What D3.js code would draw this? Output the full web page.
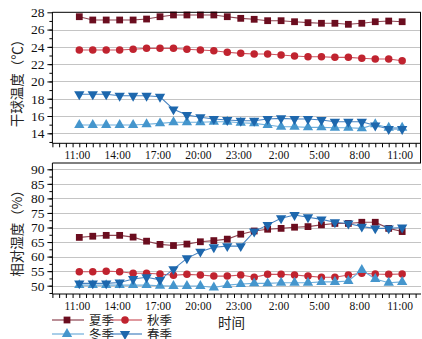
<!DOCTYPE html>
<html><head><meta charset="utf-8">
<script src="https://cdn.jsdelivr.net/npm/d3@7"></script>
<style>body{margin:0;background:#fff}svg{display:block}</style>
</head><body>
<svg id="c" width="422" height="339"></svg>
<script>
// hours since 11:00
const hours = d3.range(0, 25);
const tickHours = [0, 3, 6, 9, 12, 15, 18, 21, 24];
const tickLabels = ["11:00","14:00","17:00","20:00","23:00","2:00","5:00","8:00","11:00"];
const seasons = ["夏季","秋季","冬季","春季"];

const tempSummer = [27.49,27.11,27.11,27.11,27.11,27.22,27.49,27.69,27.69,27.69,27.69,27.49,27.3,27.19,27.03,27.03,26.91,26.8,26.73,26.73,26.61,26.73,26.91,26.99,26.91];
const tempAutumn = [23.64,23.64,23.64,23.64,23.72,23.83,23.83,23.83,23.72,23.64,23.56,23.37,23.25,23.17,23.17,23.06,22.94,22.86,22.86,22.79,22.79,22.68,22.6,22.6,22.4];
const tempWinter = [14.96,14.96,14.96,14.96,14.96,15.04,15.15,15.27,15.27,15.27,15.34,15.34,15.22,15.15,14.96,14.76,14.76,14.69,14.69,14.65,14.65,14.57,15.05,14.65,14.65];
const tempSpring = [18.51,18.51,18.51,18.35,18.35,18.35,18.23,16.77,16.11,15.85,15.65,15.53,15.45,15.45,15.65,15.73,15.65,15.65,15.53,15.34,15.34,15.34,14.9,14.5,14.5];

const rhSummer = [66.6,67.0,67.3,67.3,66.7,65.3,64.2,63.8,64.3,65.1,65.5,66.0,67.7,68.8,69.4,69.7,70.1,70.3,70.9,71.4,71.4,71.8,71.8,69.7,68.6];
const rhAutumn = [54.8,54.8,55.0,54.8,54.3,54.3,54.0,53.6,53.9,53.7,53.3,53.3,53.7,52.9,53.9,53.9,53.7,53.3,52.9,52.9,53.7,54.3,54.0,53.9,54.0];
const rhWinter = [50.2,50.2,50.2,50.2,50.2,50.2,50.0,49.9,49.9,49.9,49.4,50.2,50.6,50.8,50.8,51.0,51.0,51.0,51.3,51.3,51.6,55.4,52.3,51.0,51.3];
const rhSpring = [50.8,50.8,50.8,51.1,52.3,52.9,52.0,55.7,59.4,61.7,63.2,63.6,63.6,68.6,70.9,73.2,74.3,73.5,72.8,71.8,71.4,70.3,69.7,69.7,70.0];

const styles = [
  {marker:"#6b0d1f", line:"#8e4552", sym:d3.symbolSquare, size:46, rot:0},
  {marker:"#c0232f", line:"#cc5560", sym:d3.symbolCircle, size:44, rot:0},
  {marker:"#4596cd", line:"#6eaedb", sym:d3.symbolTriangle, size:46, rot:0},
  {marker:"#1d67ad", line:"#4682c0", sym:d3.symbolTriangle, size:46, rot:180}
];

const svg = d3.select("#c");
const x = d3.scaleLinear().domain([-2, 25.4]).range([52.4, 421]);
const serif = "'Liberation Serif','DejaVu Serif',serif";
const cjk = "'Noto Sans CJK SC',sans-serif";

function panel(cfg){
  const y = d3.scaleLinear().domain(cfg.dom).range(cfg.rng);
  const g = svg.append("g");
  g.selectAll(".grid").data(cfg.grid).join("line")
    .attr("x1", x(-2)).attr("x2", 421).attr("y1", d=>Math.round(y(d))+0.5).attr("y2", d=>Math.round(y(d))+0.5)
    .attr("stroke","#c4c4c4").attr("stroke-width",1);
  const ya = g.append("g").attr("transform",`translate(${x(-2)},0)`)
    .call(d3.axisLeft(y).tickValues(cfg.major).tickSize(5).tickPadding(3).tickFormat(d3.format("d")));
  ya.select(".domain").remove();
  ya.selectAll("text").attr("font-family",serif).attr("font-size",13.5).attr("fill","#111");
  g.append("g").attr("transform",`translate(${x(-2)},0)`)
    .call(d3.axisLeft(y).tickValues(cfg.minor).tickSize(3).tickFormat(""))
    .select(".domain").remove();
  g.append("line").attr("x1",x(-2)).attr("x2",x(-2)).attr("y1",cfg.top).attr("y2",cfg.axisY).attr("stroke","#000");
  g.append("line").attr("x1",x(-2)).attr("x2",421).attr("y1",cfg.axisY).attr("y2",cfg.axisY).attr("stroke","#000");
  const xa = g.append("g").attr("transform",`translate(0,${cfg.axisY})`)
    .call(d3.axisBottom(x).tickValues(d3.range(-2, 25.5, 0.5)).tickSize(4).tickFormat(""));
  xa.select(".domain").remove();
  g.selectAll(".xl").data(tickHours).join("text")
    .attr("x", d=>x(d)-2).attr("y", cfg.axisY+16).attr("text-anchor","middle")
    .attr("font-family",serif).attr("font-size",11.5).attr("fill","#111")
    .text((d,i)=>tickLabels[i]);
  g.append("text").attr("transform",`translate(22,${cfg.titleY}) rotate(-90)`)
    .attr("text-anchor","middle").attr("font-family",cjk).attr("font-size",13.5).attr("fill","#222")
    .text(cfg.title);
  cfg.series.forEach((vals,i)=>{
    const st = styles[i];
    const line = d3.line().x((d,j)=>x(hours[j])).y(d=>y(d));
    g.append("path").attr("d",line(vals)).attr("fill","none").attr("stroke",st.line).attr("stroke-width",1.1);
  });
  cfg.series.forEach((vals,i)=>{
    const st = styles[i];
    g.selectAll(null).data(vals).join("path")
      .attr("d", d3.symbol().type(st.sym).size(st.size))
      .attr("transform",(d,j)=>`translate(${x(hours[j])},${y(d)}) rotate(${st.rot})`)
      .attr("fill",st.marker);
  });
  return y;
}

panel({dom:[14,28], rng:[133.3,12.3], grid:[14,16,18,20,22,24,26], major:[14,16,18,20,22,24,26,28],
  minor:d3.range(13,28,1), top:12, axisY:143.3, titleY:80, title:"干球温度（℃）",
  series:[tempSummer,tempAutumn,tempWinter,tempSpring]});
svg.append("line").attr("x1",x(-2)).attr("x2",421).attr("y1",12.3).attr("y2",12.3).attr("stroke","#000");
svg.append("line").attr("x1",420.5).attr("x2",420.5).attr("y1",12.3).attr("y2",163).attr("stroke","#000");
svg.append("line").attr("x1",x(-2)).attr("x2",421).attr("y1",163).attr("y2",163).attr("stroke","#000");

panel({dom:[50,90], rng:[285.7,169.3], grid:[50,55,60,65,70,75,80,85,90], major:[50,55,60,65,70,75,80,85,90],
  minor:d3.range(47.5,92,2.5), top:163, axisY:294, titleY:230, title:"相对湿度（%）",
  series:[rhSummer,rhAutumn,rhWinter,rhSpring]});

const leg = svg.append("g");
const legPos = [{x:52,y:320},{x:110,y:320},{x:52,y:334},{x:110,y:334}];
seasons.forEach((s,i)=>{
  const p = legPos[i], st = styles[i];
  leg.append("line").attr("x1",p.x).attr("x2",p.x+32).attr("y1",p.y).attr("y2",p.y).attr("stroke",st.line).attr("stroke-width",1.2);
  leg.append("path").attr("d",d3.symbol().type(st.sym).size(st.size)())
    .attr("transform",`translate(${p.x+15},${p.y}) rotate(${st.rot})`).attr("fill",st.marker);
  leg.append("text").attr("x",p.x+37).attr("y",p.y+4.5).attr("font-family",cjk).attr("font-size",12.5).attr("fill","#222").text(s);
});
svg.append("text").attr("x",218).attr("y",328).attr("font-family",cjk).attr("font-size",13.5).attr("fill","#222").text("时间");
</script>
</body></html>
